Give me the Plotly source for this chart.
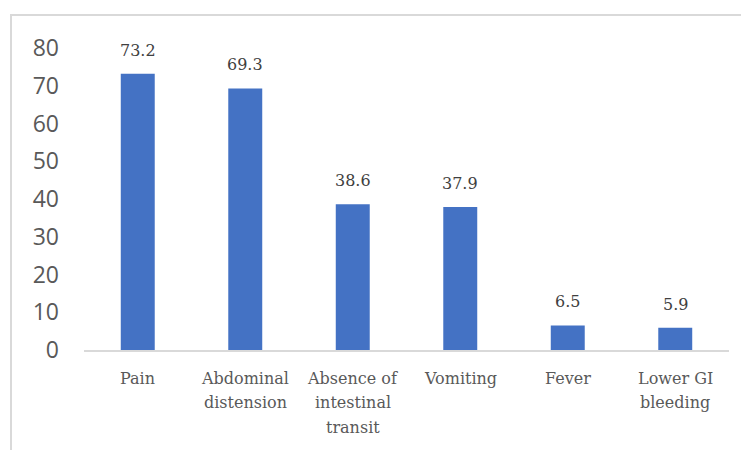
import plotly.graph_objects as go

category_lines = [["Pain"], ["Abdominal", "distension"], ["Absence of", "intestinal", "transit"],
                  ["Vomiting"], ["Fever"], ["Lower GI", "bleeding"]]
categories = [" ".join(l) for l in category_lines]
values = [73.2, 69.3, 38.6, 37.9, 6.5, 5.9]
value_labels = ["73.2", "69.3", "38.6", "37.9", "6.5", "5.9"]
y_ticks = [0, 10, 20, 30, 40, 50, 60, 70, 80]

SERIF = "DejaVu Serif, Liberation Serif, serif"

fig = go.Figure()
fig.add_trace(go.Bar(x=categories, y=values, marker=dict(color="#4472C4", line=dict(width=0)),
                     hoverinfo="skip"))

for c, v, t in zip(categories, values, value_labels):
    fig.add_annotation(x=c, y=v, text=t, showarrow=False, yanchor="bottom", yshift=12,
                       font=dict(family=SERIF, size=16, color="#404040"))

for c, lines in zip(categories, category_lines):
    for i, line in enumerate(lines):
        fig.add_annotation(x=c, y=0, text=line, showarrow=False, yanchor="middle",
                           yshift=-28 - 24.5 * i,
                           font=dict(family=SERIF, size=16, color="#595959"))

fig.add_shape(type="rect", xref="paper", yref="paper", x0=-0.1132, x1=1.2, y0=-0.6, y1=1.1093,
              line=dict(color="#D9D9D9", width=2), layer="below")

fig.update_layout(
    width=741, height=442,
    margin=dict(l=76, r=20, t=40, b=100),
    paper_bgcolor="white", plot_bgcolor="white",
    bargap=0.684,
    showlegend=False,
    xaxis=dict(showline=True, linecolor="#D9D9D9", linewidth=2, ticks="", showticklabels=False),
    yaxis=dict(range=[0, 80], tickvals=y_ticks, showgrid=False, zeroline=False, showline=False,
               tickfont=dict(family="Open Sans", size=23, color="#595959"),
               ticklabelstandoff=24),
)

fig.write_html("out.html")
